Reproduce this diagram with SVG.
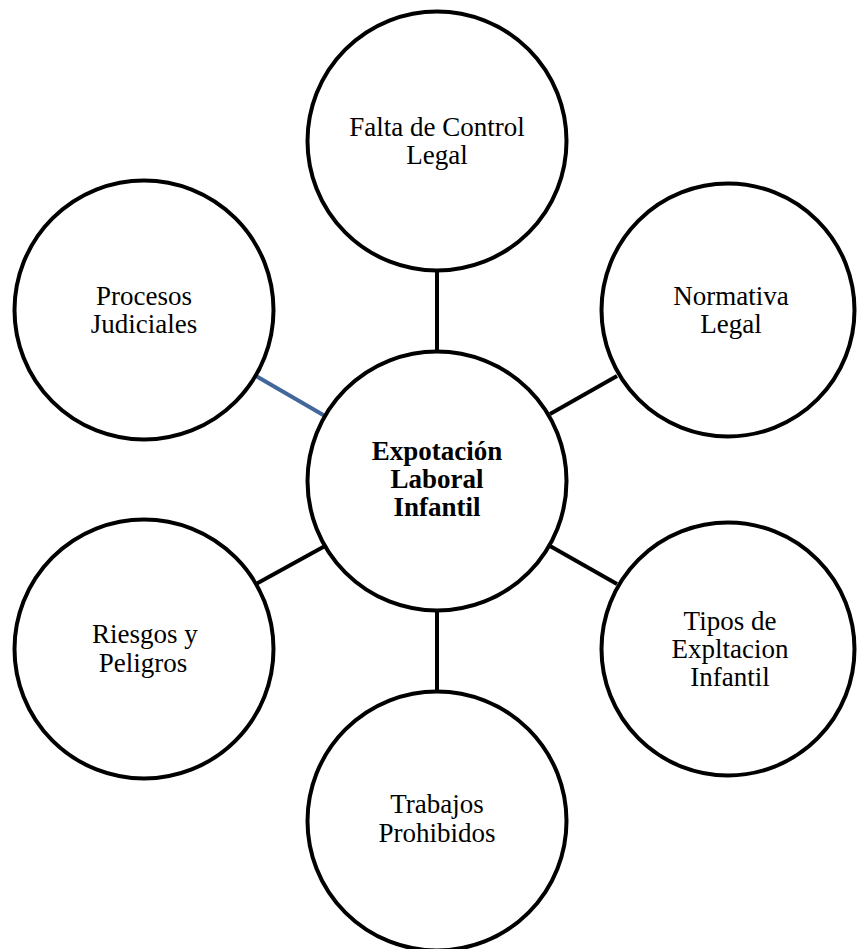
<svg xmlns="http://www.w3.org/2000/svg" width="858" height="949" viewBox="0 0 858 949">
<style>
.node circle{fill:#fff;stroke:#000;stroke-width:4}
.node text{font-family:"Liberation Serif","Times New Roman",serif;font-size:27px;fill:#000;text-anchor:middle}
.node text.b{font-weight:bold}
.conn line{stroke:#000;stroke-width:4}
.conn line.blue{stroke:#41679B}
</style>
<rect width="858" height="949" fill="#fff"/>
<g id="connectors" class="conn">
<line x1="437" y1="270" x2="437" y2="352"/>
<line x1="437" y1="610" x2="437" y2="692"/>
<line class="blue" x1="256" y1="376" x2="325" y2="416"/>
<line x1="617" y1="376" x2="550" y2="414"/>
<line x1="256" y1="584" x2="325" y2="546"/>
<line x1="617" y1="584" x2="550" y2="546"/>
</g>
<g id="n-center" class="node">
<circle cx="437" cy="481" r="129.5"/>
<text class="b" x="437" y="460">Expotación</text>
<text class="b" x="437" y="488">Laboral</text>
<text class="b" x="437" y="516">Infantil</text>
</g>
<g id="n-falta" class="node">
<circle cx="437" cy="141" r="129.5"/>
<text x="437" y="136">Falta de Control</text>
<text x="437" y="164">Legal</text>
</g>
<g id="n-procesos" class="node">
<circle cx="144" cy="310" r="129.5"/>
<text x="144" y="305">Procesos</text>
<text x="144" y="333">Judiciales</text>
</g>
<g id="n-normativa" class="node">
<circle cx="728" cy="310" r="126.5"/>
<text x="731" y="305">Normativa</text>
<text x="731" y="333">Legal</text>
</g>
<g id="n-riesgos" class="node">
<circle cx="144" cy="649" r="129.5"/>
<text x="145" y="643">Riesgos y</text>
<text x="143" y="672">Peligros</text>
</g>
<g id="n-tipos" class="node">
<circle cx="728" cy="649" r="126.5"/>
<text x="730" y="630">Tipos de</text>
<text x="730" y="658">Expltacion</text>
<text x="730" y="686">Infantil</text>
</g>
<g id="n-trabajos" class="node">
<circle cx="437" cy="821" r="129.5"/>
<text x="437" y="813">Trabajos</text>
<text x="437" y="842">Prohibidos</text>
</g>
</svg>
